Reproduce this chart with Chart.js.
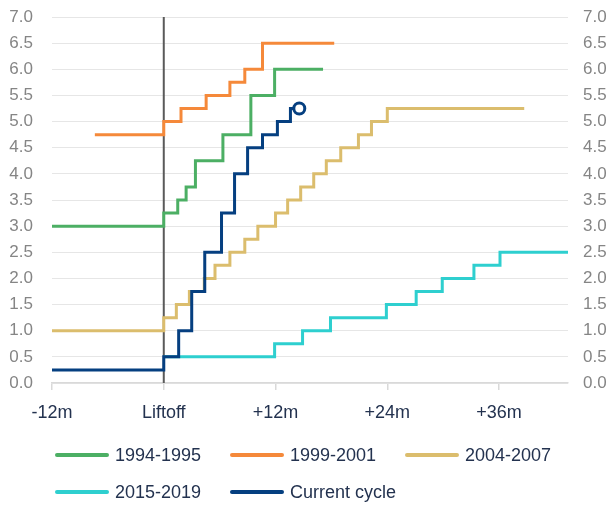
<!DOCTYPE html>
<html>
<head>
<meta charset="utf-8">
<script src="https://cdn.jsdelivr.net/npm/chart.js@4.4.1/dist/chart.umd.min.js"></script>
<style>
  html, body { margin: 0; padding: 0; background: #ffffff; }
  #wrap { width: 613px; height: 506px; position: relative; }
</style>
</head>
<body>
<div id="wrap"><canvas id="c" width="613" height="506"></canvas></div>
<script>
// Fed funds target (upper bound, %) by months since the first hike of each cycle
const cycle1994X = [-12, 0, 1.5, 2.4, 3.4, 6.35, 9.35, 11.9, 17.1];
const cycle1994Y = [3.0, 3.25, 3.5, 3.75, 4.25, 4.75, 5.5, 6.0, 6.0];

const cycle1999X = [-7.4, 0, 1.85, 4.55, 7.1, 8.7, 10.6, 18.3];
const cycle1999Y = [4.75, 5.0, 5.25, 5.5, 5.75, 6.0, 6.5, 6.5];

const cycle2004X = [-12, 0, 1.35, 2.75, 4.35, 5.5, 7.1, 8.7, 10.1, 12.0, 13.3, 14.7, 16.1, 17.45, 19.0, 20.9, 22.3, 24.0, 38.7];
const cycle2004Y = [1.0, 1.25, 1.5, 1.75, 2.0, 2.25, 2.5, 2.75, 3.0, 3.25, 3.5, 3.75, 4.0, 4.25, 4.5, 4.75, 5.0, 5.25, 5.25];

const cycle2015X = [0, 11.9, 14.9, 17.9, 23.9, 27.1, 29.9, 33.3, 36.1, 43.4];
const cycle2015Y = [0.5, 0.75, 1.0, 1.25, 1.5, 1.75, 2.0, 2.25, 2.5, 2.5];

const currentX = [-12, 0, 1.6, 3.0, 4.4, 6.2, 7.6, 9.0, 10.6, 12.2, 13.6, 14.55];
const currentY = [0.25, 0.5, 1.0, 1.75, 2.5, 3.25, 4.0, 4.5, 4.75, 5.0, 5.25, 5.25];

const seriesNames = ['1994-1995', '1999-2001', '2004-2007', '2015-2019', 'Current cycle'];
const seriesColors = ['#4caf64', '#f5893a', '#dbbd6d', '#2ecfcf', '#053f80'];

const xTickValues = [-12, 0, 12, 24, 36];
const xTickLabels = ['-12m', 'Liftoff', '+12m', '+24m', '+36m'];
const liftoffMonth = 0;
const yMin = 0, yMax = 7, yStep = 0.5;

const pts = (xs, ys) => xs.map((x, i) => ({ x: x, y: ys[i] }));
const seriesData = [
  pts(cycle1994X, cycle1994Y),
  pts(cycle1999X, cycle1999Y),
  pts(cycle2004X, cycle2004Y),
  pts(cycle2015X, cycle2015Y),
  pts(currentX, currentY)
];

const FONT = '"Liberation Sans", Arial, sans-serif';
const TEXT_DARK = '#23324f';
const TEXT_GREY = '#858585';

const datasets = seriesData.map((d, i) => {
  const isCurrent = i === seriesData.length - 1;
  return {
    label: seriesNames[i],
    data: d,
    borderColor: seriesColors[i],
    backgroundColor: seriesColors[i],
    borderWidth: 3,
    stepped: true,
    tension: 0,
    order: seriesData.length - i,
    pointRadius: isCurrent ? (ctx => ctx.dataIndex === d.length - 1 ? 5.5 : 0) : 0,
    pointHoverRadius: 0,
    pointBorderWidth: 3,
    pointBackgroundColor: '#ffffff',
    pointBorderColor: seriesColors[i],
    borderJoinStyle: 'miter'
  };
});

// vertical marker at liftoff
datasets.push({
  label: 'liftoff',
  data: [{ x: liftoffMonth, y: yMin }, { x: liftoffMonth, y: yMax }],
  borderColor: '#5a5a5a',
  borderWidth: 2,
  pointRadius: 0,
  order: 20
});

// legend laid out on a fixed grid under the axis
const gridLegend = {
  id: 'gridLegend',
  afterDraw(chart, args, opts) {
    const ctx = chart.ctx;
    ctx.save();
    ctx.font = '18px ' + FONT;
    ctx.textBaseline = 'middle';
    ctx.textAlign = 'left';
    seriesNames.forEach((name, i) => {
      const col = i % opts.cols, row = Math.floor(i / opts.cols);
      const x = opts.left + col * opts.colWidth;
      const y = opts.top + row * opts.rowHeight;
      ctx.strokeStyle = seriesColors[i];
      ctx.lineWidth = 4;
      ctx.lineCap = 'round';
      ctx.beginPath();
      ctx.moveTo(x + 2, y);
      ctx.lineTo(x + opts.swatch - 2, y);
      ctx.stroke();
      ctx.fillStyle = TEXT_DARK;
      ctx.fillText(name, x + opts.swatch + 6, y + 1);
    });
    ctx.restore();
  }
};

new Chart(document.getElementById('c'), {
  type: 'line',
  data: { datasets: datasets },
  plugins: [gridLegend],
  options: {
    responsive: false,
    animation: false,
    events: [],
    layout: { padding: { top: 17, left: 0, right: 0, bottom: 0 } },
    plugins: {
      legend: { display: false },
      tooltip: { enabled: false },
      gridLegend: { left: 55, top: 455, colWidth: 175, rowHeight: 37, cols: 3, swatch: 54 }
    },
    scales: {
      x: {
        type: 'linear',
        position: 'bottom',
        min: -12,
        max: 43.4,
        afterBuildTicks: s => { s.ticks = xTickValues.map(v => ({ value: v })); },
        afterFit: s => { s.height = 123; },
        ticks: {
          callback: v => xTickLabels[xTickValues.indexOf(v)],
          font: { family: FONT, size: 18 },
          color: TEXT_DARK,
          padding: 12,
          maxRotation: 0,
          autoSkip: false
        },
        grid: { display: true, drawOnChartArea: false, drawTicks: true, tickLength: 7, color: '#d9d9d9', lineWidth: 1.5 },
        border: { display: true, color: '#d9d9d9', width: 1.5 }
      },
      y: {
        position: 'left',
        min: yMin,
        max: yMax,
        afterFit: s => { s.width = 52; },
        ticks: {
          stepSize: yStep,
          callback: v => v.toFixed(1),
          font: { family: FONT, size: 17 },
          color: TEXT_GREY,
          padding: 2
        },
        grid: { display: true, drawTicks: true, tickLength: 17, tickColor: 'rgba(0,0,0,0)', color: '#e6e6e6', lineWidth: 1 },
        border: { display: false }
      },
      y2: {
        position: 'right',
        min: yMin,
        max: yMax,
        afterFit: s => { s.width = 45; },
        ticks: {
          stepSize: yStep,
          callback: v => v.toFixed(1),
          font: { family: FONT, size: 17 },
          color: TEXT_GREY,
          padding: 2
        },
        grid: { display: true, drawOnChartArea: false, drawTicks: true, tickLength: 13, tickColor: 'rgba(0,0,0,0)' },
        border: { display: false }
      }
    }
  }
});
</script>
</body>
</html>
